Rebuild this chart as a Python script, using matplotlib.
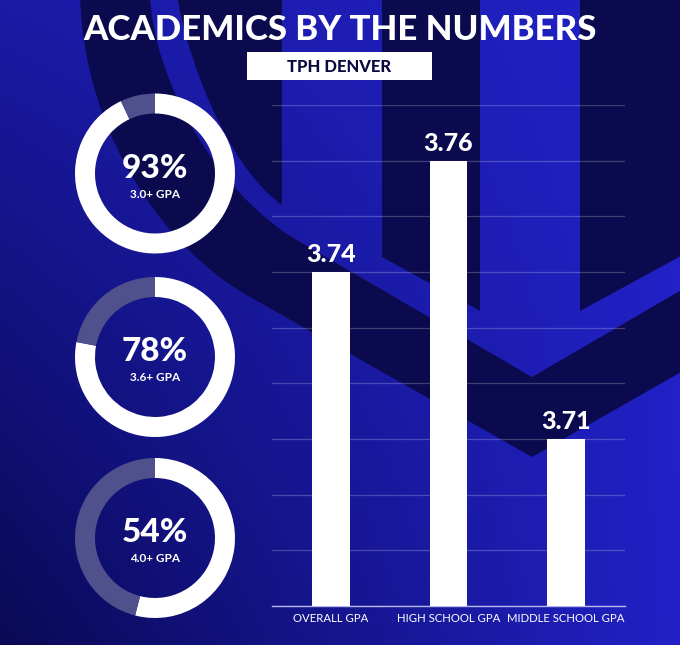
import numpy as np
import matplotlib
matplotlib.use("Agg")
import matplotlib.pyplot as plt
from matplotlib.path import Path
from matplotlib.patches import PathPatch, Rectangle
from matplotlib.ticker import MultipleLocator

# ---------------- data ----------------
title = "ACADEMICS BY THE NUMBERS"
subtitle = "TPH DENVER"
ring_pcts = [93, 78, 54]
ring_labels = ["3.0+ GPA", "3.6+ GPA", "4.0+ GPA"]
categories = ["OVERALL GPA", "HIGH SCHOOL GPA", "MIDDLE SCHOOL GPA"]
gpa_values = [3.74, 3.76, 3.71]
y_min, y_max, y_step = 3.68, 3.77, 0.01

# ---------------- style ----------------
W, H, DPI = 680, 645, 100
DARK = "#0b0a4e"
REST = "#50508c"
FONT = ["Lato", "DejaVu Sans"]
plt.rcParams["font.family"] = FONT

fig = plt.figure(figsize=(W / DPI, H / DPI), dpi=DPI)

# ---------------- background (pixel coordinates, y down) ----------------
bg = fig.add_axes([0, 0, 1, 1], zorder=0)
bg.set_xlim(0, W)
bg.set_ylim(H, 0)
bg.axis("off")
xx, yy = np.meshgrid(np.linspace(0, 1, W), np.linspace(0, 1, H))
t = np.clip(0.05 + 0.85 * xx + 0.6 * (1 - yy) * (1 - xx), 0, 1)
lo = np.array([8, 8, 78]) / 255
hi = np.array([36, 36, 212]) / 255
img = lo[None, None, :] * (1 - t[..., None]) + hi[None, None, :] * t[..., None]
bg.imshow(img, extent=(0, W, H, 0), aspect="auto", zorder=0)

M, L, C4, Z = Path.MOVETO, Path.LINETO, Path.CURVE4, Path.CLOSEPOLY
shapes = [
    # big curved chevron band
    ([(80, -5), (84, 140), (170, 253), (250, 297), (532, 457), (690, 367),
      (690, 285), (532, 377), (300, 242), (210, 190), (152, 70), (150, -5), (80, -5)],
     [M, C4, C4, C4, L, L, L, L, L, C4, C4, C4, Z]),
    # inner curved bar
    ([(177, -5), (185, 50), (225, 165), (282, 205), (282, -5), (177, -5)],
     [M, C4, C4, C4, L, Z]),
    # vertical bars with slanted bottoms
    ([(382, -5), (382, 257), (480, 311), (480, -5), (382, -5)], [M, L, L, L, Z]),
    ([(580, -5), (580, 311), (690, 251), (690, -5), (580, -5)], [M, L, L, L, Z]),
]
for verts, codes in shapes:
    bg.add_patch(PathPatch(Path(verts, codes), facecolor=DARK, edgecolor="none", zorder=1))

# title + subtitle box
bg.text(340, 40, title, ha="center", va="baseline", color="white",
        fontsize=25, fontweight="black", zorder=5)
bg.add_patch(Rectangle((247, 52), 185, 28, facecolor="white", edgecolor="none", zorder=4))
bg.text(339.5, 71.5, subtitle, ha="center", va="baseline", color="#0a0a40",
        fontsize=12, fontweight="black", zorder=5)

# ---------------- bar chart ----------------
ax = fig.add_axes([272 / W, 1 - 606 / H, 353 / W, (606 - 105) / H], zorder=2)
ax.patch.set_alpha(0)
x = np.arange(len(categories))
ax.bar(x, gpa_values, width=0.32, color="white", zorder=3)
ax.set_xlim(-0.5, len(categories) - 0.5)
ax.set_ylim(y_min, y_max)
ax.yaxis.set_major_locator(MultipleLocator(y_step))
ax.grid(axis="y", color="white", alpha=0.22, linewidth=0.9, zorder=1)
ax.set_axisbelow(True)
for s in ["left", "right", "top"]:
    ax.spines[s].set_visible(False)
ax.spines["bottom"].set_color("#b8b8f0")
ax.spines["bottom"].set_linewidth(1.0)
ax.tick_params(axis="y", left=False, labelleft=False)
ax.set_xticks(x)
ax.set_xticklabels(categories)
ax.tick_params(axis="x", length=0, pad=5, labelsize=8.2, labelcolor="white")
for xi, v in zip(x, gpa_values):
    ax.annotate(f"{v:.2f}", (xi, v), xytext=(0, 7.2), textcoords="offset points",
                ha="center", va="baseline", color="white", fontsize=18,
                fontweight="black", zorder=4)

# ---------------- donuts ----------------
centers_y = [173.5, 357, 538]
cx, r = 155, 80
for p, lab, cy in zip(ring_pcts, ring_labels, centers_y):
    dax = fig.add_axes([(cx - r) / W, 1 - (cy + r) / H, 2 * r / W, 2 * r / H], zorder=3)
    dax.pie([p, 100 - p], colors=["white", REST], startangle=90,
            counterclock=False, radius=1,
            wedgeprops=dict(width=0.25, linewidth=0))
    dax.set_xlim(-1, 1)
    dax.set_ylim(-1, 1)
    dax.text(0, -0.05, f"{p}%", ha="center", va="baseline", color="white",
             fontsize=24, fontweight="black")
    dax.text(0, -0.30, lab, ha="center", va="baseline", color="white",
             fontsize=8.5, fontweight="bold")

fig.savefig("out.png", dpi=DPI)
